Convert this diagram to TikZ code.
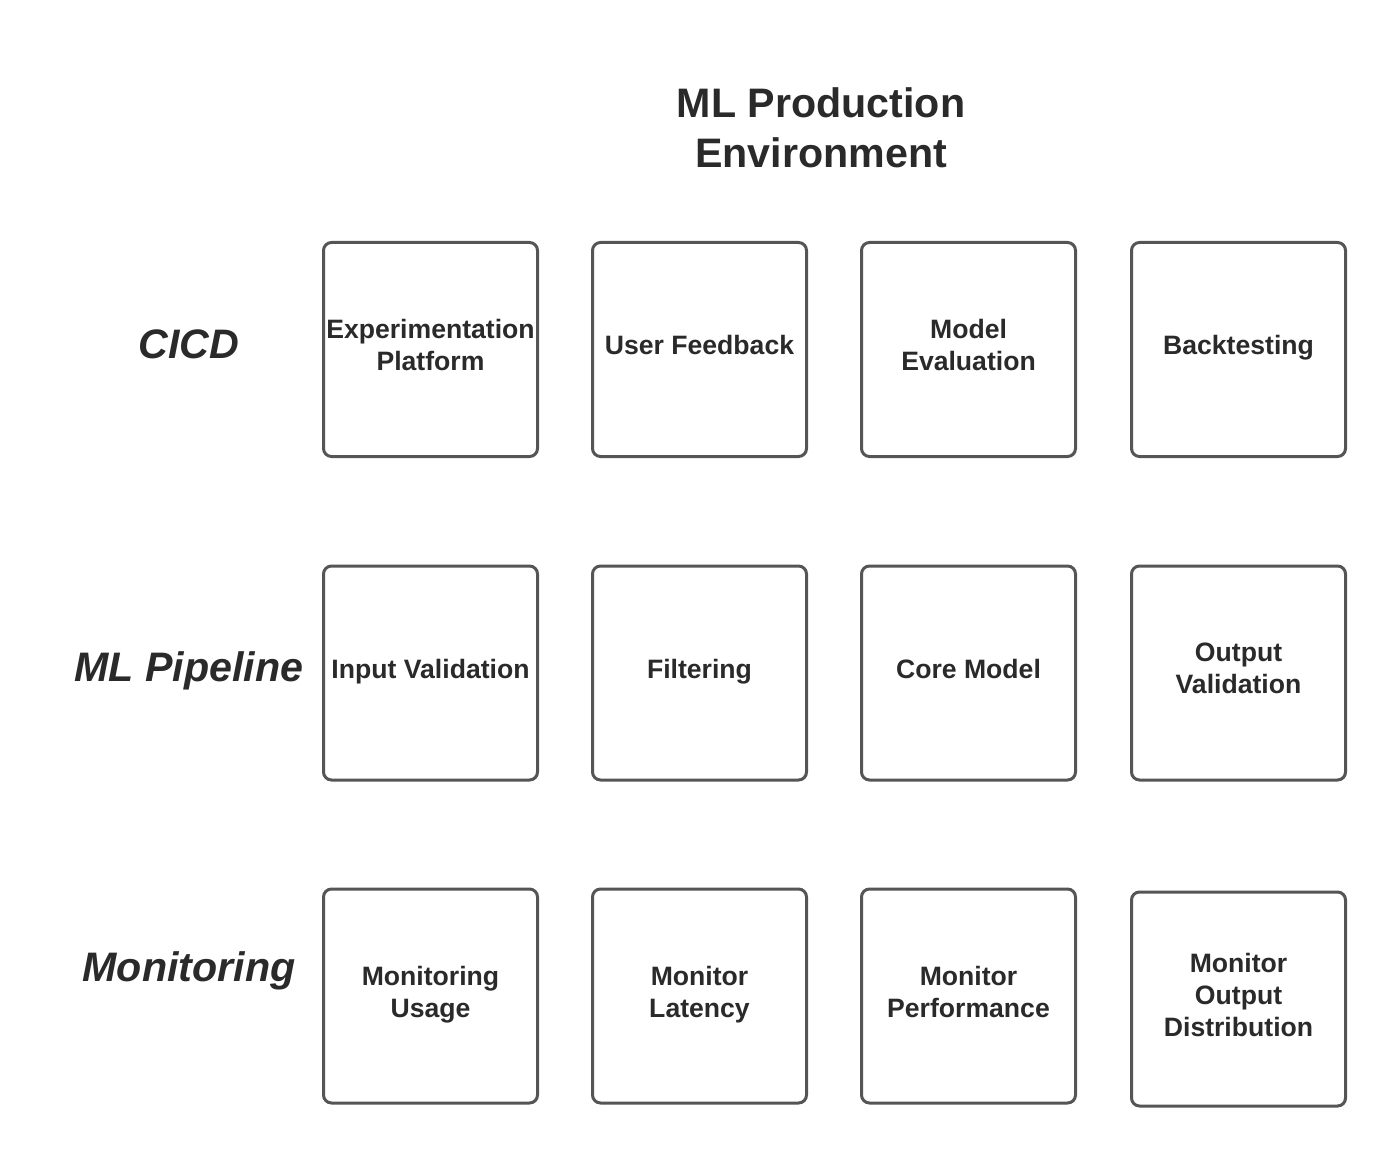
\documentclass[tikz,border=0pt]{standalone}
\usepackage{fontspec}
\setmainfont{Liberation Sans}
\usepackage{tikz}
\usetikzlibrary{positioning}
\definecolor{boxline}{HTML}{555555}
\definecolor{inktext}{HTML}{2A2A2A}

\begin{document}
\begin{tikzpicture}[
    x=0.5pt, y=-0.5pt,
    stagebox/.style={rectangle, draw=boxline, line width=1.5pt, fill=white, rounded corners=4pt, inner xsep=1pt, minimum width=107pt, minimum height=107pt, align=center, text=inktext, font=\fontsize{13.3}{16}\selectfont\bfseries, execute at end node={\rule[-4.5pt]{0pt}{4.5pt}}},
    rowlabel/.style={align=center, text=inktext, font=\fontsize{20.6}{25}\selectfont\bfseries\itshape},
    titletext/.style={align=center, text=inktext, font=\fontsize{20.6}{25}\selectfont\bfseries}
]
\useasboundingbox (0,0) rectangle (1400,1160);

% Title
\node[titletext] (title) at (821,128) {ML Production\\Environment};

% Row 1: CICD
\node[rowlabel] (cicd) at (189,344) {CICD};
\node[stagebox] (c1) at (430.5,349.5) {Experimentation\\Platform};
\node[stagebox] (c2) at (699.5,349.5) {User Feedback};
\node[stagebox] (c3) at (968.5,349.5) {Model\\Evaluation};
\node[stagebox] (c4) at (1238.5,349.5) {Backtesting};

% Row 2: ML Pipeline
\node[rowlabel] (pipe) at (189,671) {ML Pipeline};
\node[stagebox] (p1) at (430.5,673) {Input Validation};
\node[stagebox] (p2) at (699.5,673) {Filtering};
\node[stagebox] (p3) at (968.5,673) {Core Model};
\node[stagebox] (p4) at (1238.5,673) {Output\\Validation};

% Row 3: Monitoring
\node[rowlabel] (mon) at (189,971) {Monitoring};
\node[stagebox] (m1) at (430.5,996) {Monitoring\\Usage};
\node[stagebox] (m2) at (699.5,996) {Monitor\\Latency};
\node[stagebox] (m3) at (968.5,996) {Monitor\\Performance};
\node[stagebox] (m4) at (1238.5,999) {Monitor\\Output\\Distribution};

\end{tikzpicture}
\end{document}
